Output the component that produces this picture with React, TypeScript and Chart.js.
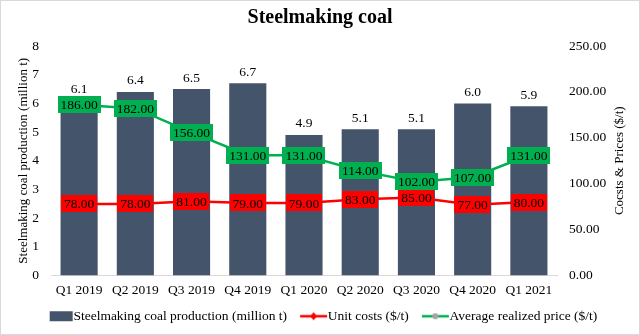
import React, { useEffect, useRef } from 'react';
import { Chart, registerables } from 'chart.js';

Chart.register(...registerables);

const quarters = ['Q1 2019', 'Q2 2019', 'Q3 2019', 'Q4 2019', 'Q1 2020', 'Q2 2020', 'Q3 2020', 'Q4 2020', 'Q1 2021'];
const production = [6.1, 6.4, 6.5, 6.7, 4.9, 5.1, 5.1, 6.0, 5.9];
const unitCosts = [78, 78, 81, 79, 79, 83, 85, 77, 80];
const avgPrice = [186, 182, 156, 131, 131, 114, 102, 107, 131];

const FONT = '"Liberation Serif", "Times New Roman", Times, serif';
const BAR = '#44546A';
const RED = '#FF0000';
const GREEN = '#00B050';
const TXT = 13.5;

function makeMarker(kind: 'bar' | 'red' | 'green') {
  const c = document.createElement('canvas');
  c.width = 48;
  c.height = 12;
  const g = c.getContext('2d')!;
  if (kind === 'bar') {
    g.fillStyle = BAR;
    g.fillRect(19, 1, 23, 10);
  } else {
    g.strokeStyle = kind === 'red' ? RED : GREEN;
    g.lineWidth = 2.5;
    g.beginPath();
    g.moveTo(15, 6);
    g.lineTo(42, 6);
    g.stroke();
    if (kind === 'red') {
      g.fillStyle = RED;
      g.beginPath();
      g.moveTo(28.5, 2);
      g.lineTo(32, 6);
      g.lineTo(28.5, 10);
      g.lineTo(25, 6);
      g.closePath();
      g.fill();
    } else {
      g.fillStyle = '#A5A5A5';
      g.beginPath();
      g.arc(28.5, 6, 3, 0, Math.PI * 2);
      g.fill();
    }
  }
  return c;
}

const valueLabels = {
  id: 'valueLabels',
  afterDatasetsDraw(chart: any) {
    const { ctx } = chart;
    ctx.save();
    ctx.font = `${TXT}px ${FONT}`;
    ctx.textAlign = 'center';
    ctx.textBaseline = 'middle';
    chart.data.datasets.forEach((ds: any, di: number) => {
      const meta = chart.getDatasetMeta(di);
      meta.data.forEach((el: any, i: number) => {
        const v = ds.data[i] as number;
        if (ds.type === 'bar') {
          ctx.fillStyle = '#000';
          ctx.fillText(v.toFixed(1), el.x, el.y - 11);
        } else {
          const t = v.toFixed(2);
          const w = ctx.measureText(t).width + 6;
          const h = 17;
          ctx.fillStyle = ds.borderColor;
          ctx.fillRect(Math.round(el.x - w / 2), Math.round(el.y - h / 2), Math.round(w), h);
          ctx.fillStyle = '#000';
          ctx.fillText(t, el.x, el.y + 1);
        }
      });
    });
    ctx.restore();
  },
};

const frame = {
  id: 'frame',
  beforeDraw(chart: any) {
    const { ctx, width, height } = chart;
    ctx.save();
    ctx.fillStyle = '#fff';
    ctx.fillRect(0, 0, width, height);
    ctx.restore();
  },
  afterDraw(chart: any) {
    const { ctx, width, height, chartArea } = chart;
    ctx.save();
    ctx.font = `13px ${FONT}`;
    ctx.fillStyle = '#000';
    ctx.textAlign = 'center';
    ctx.textBaseline = 'middle';
    ctx.translate(width - 20, (chartArea.top + chartArea.bottom) / 2);
    ctx.rotate(-Math.PI / 2);
    ctx.fillText('Cocsts & Prices ($/t)', 0, 0);
    ctx.restore();
    ctx.save();
    ctx.strokeStyle = '#D9D9D9';
    ctx.lineWidth = 1;
    ctx.strokeRect(0.5, 0.5, width - 1, height - 1);
    ctx.restore();
  },
};

export default function App() {
  const ref = useRef<HTMLCanvasElement>(null);
  useEffect(() => {
    const markers = [makeMarker('bar'), makeMarker('red'), makeMarker('green')];
    const tickFont = { family: FONT, size: TXT };
    const chart = new Chart(ref.current!, {
      type: 'bar',
      data: {
        labels: quarters,
        datasets: [
          {
            type: 'bar',
            label: 'Steelmaking coal production (million t)',
            data: production,
            backgroundColor: BAR,
            yAxisID: 'y',
            order: 3,
            barPercentage: 0.66,
            categoryPercentage: 1,
          } as any,
          {
            type: 'line',
            label: 'Unit costs ($/t)',
            data: unitCosts,
            borderColor: RED,
            backgroundColor: RED,
            borderWidth: 2.5,
            pointRadius: 0,
            tension: 0,
            yAxisID: 'y1',
            order: 2,
          },
          {
            type: 'line',
            label: 'Average realized price ($/t)',
            data: avgPrice,
            borderColor: GREEN,
            backgroundColor: GREEN,
            borderWidth: 2.5,
            pointRadius: 0,
            tension: 0,
            yAxisID: 'y1',
            order: 1,
          },
        ],
      },
      options: {
        responsive: false,
        animation: false,
        layout: { padding: { left: 0, right: 0, top: 0, bottom: 2 } },
        plugins: {
          title: {
            display: true,
            text: 'Steelmaking coal',
            color: '#000',
            font: { family: FONT, size: 20, weight: 'bold' },
            padding: { top: 6, bottom: 16 },
          },
          legend: {
            position: 'bottom',
            labels: {
              usePointStyle: true,
              pointStyleWidth: 24,
              boxHeight: 12,
              color: '#000',
              font: { family: FONT, size: TXT },
              padding: 10,
              sort: (a: any, b: any) => a.datasetIndex - b.datasetIndex,
              generateLabels: (ch: any) =>
                (Chart.defaults.plugins.legend.labels.generateLabels as any)(ch).map((l: any) => ({
                  ...l,
                  pointStyle: markers[l.datasetIndex],
                })),
            },
          },
          tooltip: { enabled: false },
        },
        scales: {
          x: {
            grid: { display: false, drawTicks: false },
            border: { display: true, color: '#D9D9D9', width: 1 },
            ticks: { color: '#000', font: tickFont, padding: 7, maxRotation: 0, autoSkip: false },
            afterFit: (s: any) => {
              s.height = 24;
            },
          },
          y: {
            position: 'left',
            min: 0,
            max: 8,
            grid: { display: false, drawTicks: false },
            border: { display: false },
            ticks: { stepSize: 1, color: '#000', font: tickFont, padding: 12 },
            title: {
              display: true,
              text: 'Steelmaking coal production (million t)',
              color: '#000',
              font: { family: FONT, size: 13 },
              padding: { top: 16, bottom: 0 },
            },
            afterFit: (s: any) => {
              s.width = 51;
            },
          },
          y1: {
            position: 'right',
            min: 0,
            max: 250,
            grid: { display: false, drawTicks: false },
            border: { display: false },
            ticks: {
              stepSize: 50,
              color: '#000',
              font: tickFont,
              padding: 12,
              callback: (v: any) => Number(v).toFixed(2),
            },
            afterFit: (s: any) => {
              s.width = 83;
            },
          },
        },
      } as any,
      plugins: [frame, valueLabels],
    });
    return () => chart.destroy();
  }, []);
  return (
    <div style={{ position: 'absolute', left: 0, top: 0, width: 640, height: 335 }}>
      <canvas ref={ref} width={640} height={335} style={{ display: 'block' }} />
    </div>
  );
}
